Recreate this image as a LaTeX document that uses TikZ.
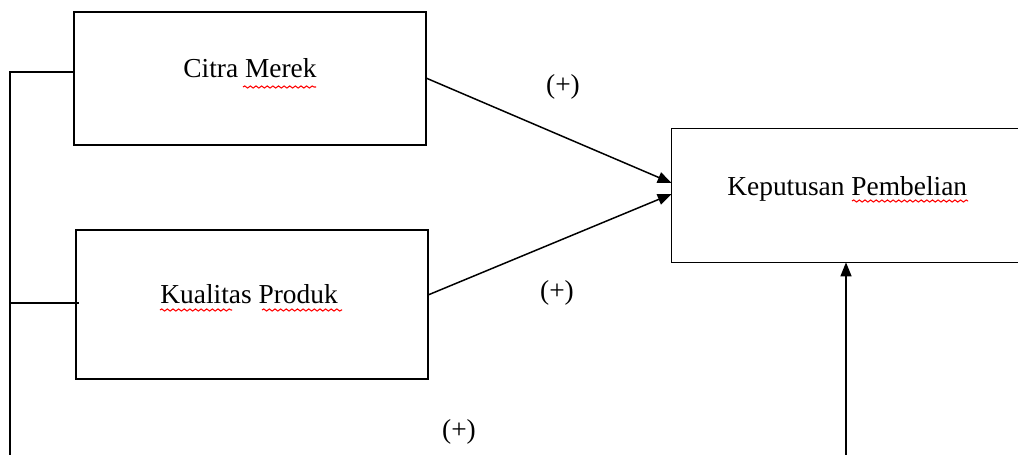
\documentclass[tikz,border=0pt]{standalone}
\usepackage{fontspec}
\setmainfont{Liberation Serif}
\usetikzlibrary{arrows.meta,decorations.pathmorphing}
\begin{document}
\begin{tikzpicture}[x=0.02cm,y=-0.02cm,
  box/.style={draw=black,line width=0.85pt,minimum width=7.04cm,inner sep=0pt},
  openbox/.style={minimum width=6.92cm,minimum height=2.66cm,inner sep=0pt},
  txt/.style={font=\fontsize{15.6}{18}\selectfont,inner sep=0pt,anchor=base west},
  lbl/.style={font=\fontsize{15.6}{18}\selectfont,inner sep=0pt},
  conn/.style={draw=black,line width=0.85pt},
  arr/.style={conn,-{Triangle[length=0.28cm,width=0.22cm]}},
  wavy/.style={draw=red,line width=0.6pt,decorate,decoration={snake,amplitude=0.6pt,segment length=3.2pt}}]
\useasboundingbox (0,0) rectangle (1018,454);
% boxes
\node[box,minimum height=2.66cm] (cm) at (250,78.5) {};
\node[box,minimum height=2.98cm] (kp) at (252,304.5) {};
\node[openbox] (kpb) at (845,195.5) {};
\draw[conn] (kpb.north east) -- (kpb.north west) -- (kpb.south west) -- (kpb.south east);
% texts
\node[txt] (tcm) at (183,77) {Citra Merek};
\node[txt] (tkp) at (160,303) {Kualitas Produk};
\node[txt] (tkpb) at (727,195) {Keputusan Pembelian};
% spell-check underlines
\draw[wavy] (243,87) -- (316,87);
\draw[wavy] (160,310) -- (232,310);
\draw[wavy] (262,310) -- (342,310);
\draw[wavy] (852,201) -- (968,201);
% labels
\node[lbl] (p1) at (563,87) {(+)};
\node[lbl] (p2) at (557,293) {(+)};
\node[lbl] (p3) at (459,432) {(+)};
% left bracket
\coordinate (ltop) at (10,72);
\coordinate (lmid) at (10,303);
\coordinate (lbot) at (10,455);
\coordinate (kpl) at (79,303);
\draw[conn] (cm.west |- ltop) -- (ltop) -- (lbot);
\draw[conn] (lmid) -- (kpl);
% arrows
\coordinate (a1) at (426,78);
\coordinate (a2) at (428,295);
\draw[arr] (a1) -- (kpb.west |- 0,183);
\draw[arr] (a2) -- (kpb.west |- 0,194);
\coordinate (vb) at (846,455);
\draw[arr] (vb) -- (kpb.south -| vb);
\end{tikzpicture}
\end{document}
